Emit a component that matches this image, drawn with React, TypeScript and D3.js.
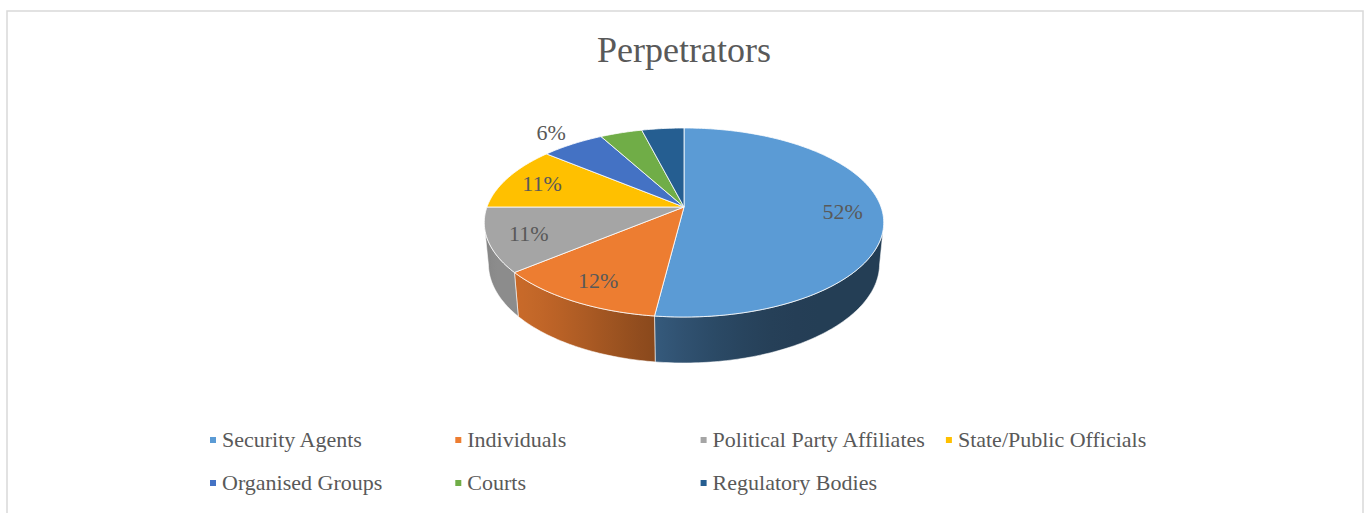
import React from "react";
import * as d3 from "d3";

const title = "Perpetrators";
const categories = [
  "Security Agents",
  "Individuals",
  "Political Party Affiliates",
  "State/Public Officials",
  "Organised Groups",
  "Courts",
  "Regulatory Bodies",
];
const values = [52, 12, 11, 11, 6, 4, 4];
const labelShown = [true, true, true, true, true, false, false];
const colors = ["#5b9bd5", "#ed7d31", "#a5a5a5", "#ffc000", "#4472c4", "#70ad47", "#255e91"];

const W = 1369;
const H = 513;
const CX = 684;
const CY = 207;
const F = 1062;
const DIST = 5.39;
const SA = 0.4668;
const CA = Math.sqrt(1 - SA * SA);
const T = 0.239;
const FONT = "'Liberation Serif', 'Times New Roman', serif";
const TEXT = "#595959";

function project(phi: number, y: number, r = 1): [number, number] {
  const xc = r * Math.sin(phi);
  const cz = r * Math.cos(phi);
  const yc = y * CA + cz * SA;
  const zc = -y * SA + cz * CA + DIST;
  return [CX + (F * xc) / zc, CY - (F * yc) / zc];
}

function shade(phi: number) {
  const c = Math.cos(phi - (235 * Math.PI) / 180);
  return 0.4 + 0.45 * Math.pow(Math.max(0, c), 2.3);
}

function scaleColor(col: string, f: number) {
  const c = d3.rgb(col);
  return d3.rgb(c.r * f, c.g * f, c.b * f).formatHex();
}

export default function App() {
  const pie = d3.pie<number>().sort(null).startAngle(0).endAngle(2 * Math.PI);
  const arcs = pie(values);
  const visMin = (100 * Math.PI) / 180;
  const visMax = 2 * Math.PI - visMin;

  const walls: React.ReactNode[] = [];
  const defs: React.ReactNode[] = [];
  arcs.forEach((a, i) => {
    const s = Math.max(a.startAngle, visMin);
    const e = Math.min(a.endAngle, visMax);
    if (e <= s) return;
    const n = Math.max(2, Math.ceil(((e - s) * 180) / Math.PI));
    const top: [number, number][] = [];
    const bot: [number, number][] = [];
    for (let k = 0; k <= n; k++) {
      const p = s + ((e - s) * k) / n;
      top.push(project(p, 0));
      bot.push(project(p, -T));
    }
    const path =
      "M" + top.map((p) => p.join(",")).join("L") +
      "L" + bot.reverse().map((p) => p.join(",")).join("L") + "Z";
    const x1 = project(s, 0)[0];
    const x2 = project(e, 0)[0];
    const stops: React.ReactNode[] = [];
    const m = 12;
    for (let k = 0; k <= m; k++) {
      const p = s + ((e - s) * k) / m;
      const off = (project(p, 0)[0] - x1) / (x2 - x1);
      stops.push(
        <stop key={k} offset={Math.min(1, Math.max(0, off))} stopColor={scaleColor(colors[i], shade(p))} />
      );
    }
    defs.push(
      <linearGradient key={"g" + i} id={"wall" + i} gradientUnits="userSpaceOnUse" x1={x1} y1={0} x2={x2} y2={0}>
        {stops}
      </linearGradient>
    );
    walls.push(
      <path key={"w" + i} d={path} fill={`url(#wall${i})`} stroke="#ffffff" strokeOpacity={0.7} strokeWidth={0.8} strokeLinejoin="round" />
    );
  });

  const tops = arcs.map((a, i) => {
    const n = Math.max(2, Math.ceil(((a.endAngle - a.startAngle) * 180) / Math.PI));
    const pts: [number, number][] = [];
    for (let k = 0; k <= n; k++) {
      pts.push(project(a.startAngle + ((a.endAngle - a.startAngle) * k) / n, 0));
    }
    const d = `M${CX},${CY}L` + pts.map((p) => p.join(",")).join("L") + "Z";
    return <path key={"t" + i} d={d} fill={colors[i]} stroke="#ffffff" strokeOpacity={0.8} strokeWidth={1} strokeLinejoin="round" />;
  });

  const total = d3.sum(values);
  const labels = arcs.map((a, i) => {
    if (!labelShown[i]) return null;
    const mid = (a.startAngle + a.endAngle) / 2;
    const pct = Math.round((values[i] / total) * 100);
    const r = pct < 8 ? 1.22 : 0.8;
    const [x, y] = project(mid, 0, r);
    return (
      <text key={"l" + i} x={x} y={y} dy="0.35em" textAnchor="middle" fontFamily={FONT} fontSize={22} fill={TEXT}>
        {pct}%
      </text>
    );
  });

  const legendX0 = 210;
  const colW = 245.3;
  const rowY = [440, 483];
  const legend = categories.map((c, i) => {
    const col = i % 4;
    const row = Math.floor(i / 4);
    const x = legendX0 + col * colW;
    const y = rowY[row];
    return (
      <g key={"lg" + i}>
        <rect x={x} y={y - 3} width={6} height={6} fill={colors[i]} />
        <text x={x + 12} y={y + 7} fontFamily={FONT} fontSize={22} fill={TEXT}>
          {c}
        </text>
      </g>
    );
  });

  return (
    <svg width={W} height={H} style={{ position: "absolute", left: 0, top: 0 }}>
      <defs>{defs}</defs>
      <rect x={0} y={0} width={W} height={H} fill="#ffffff" />
      <rect x={7} y={11} width={1356} height={540} fill="#ffffff" stroke="#d9d9d9" strokeWidth={1.5} />
      <text x={684} y={62} textAnchor="middle" fontFamily={FONT} fontSize={36} fill={TEXT}>
        {title}
      </text>
      {walls}
      {tops}
      {labels}
      {legend}
    </svg>
  );
}
